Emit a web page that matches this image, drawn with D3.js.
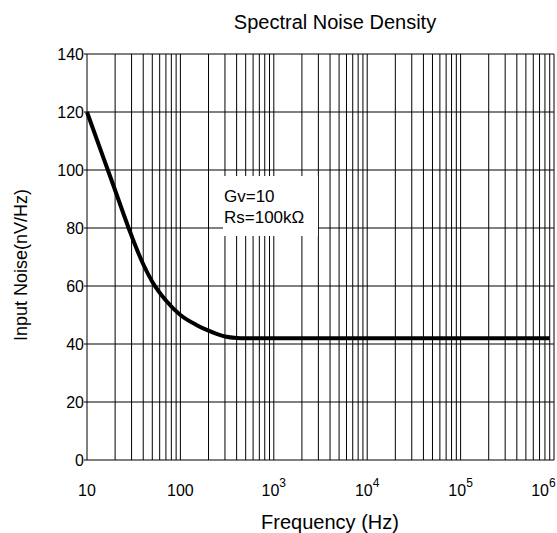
<!DOCTYPE html>
<html>
<head>
<meta charset="utf-8">
<script src="https://cdn.jsdelivr.net/npm/d3@7"></script>
<style>
  body { margin: 0; background: #fff; }
  svg { display: block; font-family: "Liberation Sans", Arial, sans-serif; }
</style>
</head>
<body>
<svg id="grafico"></svg>
<script>
const WIDTH = 557,
    HEIGHT = 533;

const margin = {
    top: 54,
    bottom: 73,
    right: 3,
    left: 87
};

// data
const frecuencias = [10, 15, 20, 30, 40, 50, 70, 100, 150, 200, 300, 400, 500, 1000, 1e4, 1e5, 9e5];
const ruido = [120, 104.2, 93, 77.3, 67.5, 61.5, 55, 50, 46.5, 44.6, 42.6, 42.1, 42, 42, 42, 42, 42];
const ticksY = [0, 20, 40, 60, 80, 100, 120, 140];
const ticksX = [10, 100, 1e3, 1e4, 1e5, 1e6];
const etiquetasX = ["10", "100", "10|3", "10|4", "10|5", "10|6"];
const anotacion = ["Gv=10", "Rs=100kΩ"];

const datos = frecuencias.map((f, i) => ({ f: f, v: ruido[i] }));

const svg = d3.select("#grafico")
    .attr("width", WIDTH)
    .attr("height", HEIGHT);

const escalaX = d3.scaleLog()
    .domain([10, 1e6])
    .range([margin.left, WIDTH - margin.right]);

const escalaY = d3.scaleLinear()
    .domain([0, 140])
    .range([HEIGHT - margin.bottom, margin.top]);

// vertical grid: 1..9 per decade
const lineasX = [];
for (let d = 10; d < 1e6; d *= 10) {
    for (let k = 1; k <= 9; k++) lineasX.push(d * k);
}
lineasX.push(1e6);

svg.append("g")
    .selectAll("line")
    .data(lineasX)
    .join("line")
    .attr("x1", d => escalaX(d))
    .attr("x2", d => escalaX(d))
    .attr("y1", escalaY(0))
    .attr("y2", escalaY(140))
    .attr("stroke", "#000")
    .attr("stroke-width", 1);

// horizontal grid
svg.append("g")
    .selectAll("line")
    .data(ticksY)
    .join("line")
    .attr("x1", escalaX(10) - 3)
    .attr("x2", escalaX(1e6))
    .attr("y1", d => escalaY(d))
    .attr("y2", d => escalaY(d))
    .attr("stroke", "#000")
    .attr("stroke-width", 1);

// y tick labels
svg.append("g")
    .selectAll("text")
    .data(ticksY)
    .join("text")
    .attr("x", escalaX(10) - 3)
    .attr("y", d => escalaY(d))
    .attr("dy", "0.36em")
    .attr("text-anchor", "end")
    .attr("font-size", 16)
    .attr("fill", "#000")
    .text(d => d);

// x tick labels, with superscripts
const etiquetas = svg.append("g")
    .selectAll("text")
    .data(ticksX)
    .join("text")
    .attr("x", d => escalaX(d))
    .attr("y", 496)
    .attr("text-anchor", "middle")
    .attr("font-size", 16)
    .attr("fill", "#000");

etiquetas.each(function (d, i) {
    const partes = etiquetasX[i].split("|");
    const t = d3.select(this);
    t.append("tspan").text(partes[0]);
    if (partes[1]) {
        t.append("tspan")
            .attr("dy", -9)
            .attr("font-size", 12)
            .text(partes[1]);
    }
    // keep the last label inside the picture
    const caja = this.getBBox();
    if (caja.x + caja.width > WIDTH - 1) {
        t.attr("x", escalaX(d) - (caja.x + caja.width - (WIDTH - 1)));
    }
});

// annotation box
svg.append("rect")
    .attr("x", 223)
    .attr("y", 176)
    .attr("width", 95)
    .attr("height", 60)
    .attr("fill", "#fff");

svg.append("g")
    .selectAll("text")
    .data(anotacion)
    .join("text")
    .attr("x", 224)
    .attr("y", (d, i) => 202 + i * 21)
    .attr("font-size", 17)
    .attr("fill", "#000")
    .text(d => d);

// curve
const linea = d3.line()
    .x(d => escalaX(d.f))
    .y(d => escalaY(d.v))
    .curve(d3.curveMonotoneX);

svg.append("path")
    .datum(datos)
    .attr("d", linea)
    .attr("fill", "none")
    .attr("stroke", "#000")
    .attr("stroke-width", 4);

// titles
svg.append("text")
    .attr("x", 335)
    .attr("y", 29)
    .attr("text-anchor", "middle")
    .attr("font-size", 20)
    .attr("fill", "#000")
    .text("Spectral Noise Density");

svg.append("text")
    .attr("x", 330)
    .attr("y", 529)
    .attr("text-anchor", "middle")
    .attr("font-size", 20)
    .attr("fill", "#000")
    .text("Frequency (Hz)");

svg.append("text")
    .attr("transform", "translate(27 265) rotate(-90)")
    .attr("text-anchor", "middle")
    .attr("font-size", 18)
    .attr("fill", "#000")
    .text("Input Noise(nV/Hz)");
</script>
</body>
</html>
